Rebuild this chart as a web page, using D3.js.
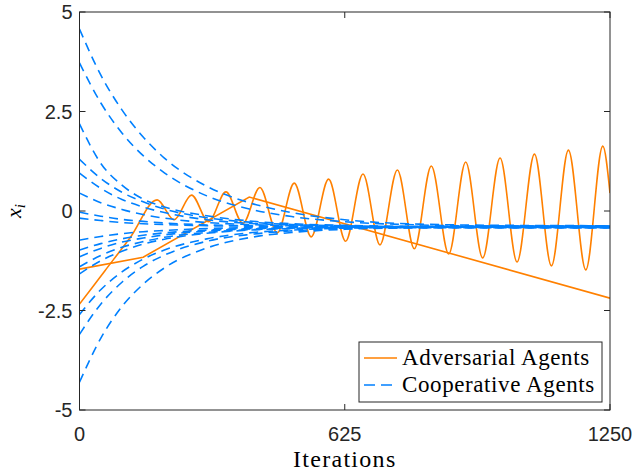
<!DOCTYPE html>
<html>
<head>
<meta charset="utf-8">
<script src="https://cdn.jsdelivr.net/npm/d3@7"></script>
<style>
  body { margin: 0; background: #fff; }
  svg { display: block; }
</style>
</head>
<body>
<svg id="chart" width="637" height="475"></svg>
<script>
var width = 637;
var height = 475;
var MARGINS = { top: 12, right: 27, bottom: 65, left: 79.5 };

// x ticks / y ticks
var xTicks = [0, 625, 1250];
var yTicks = [-5, -2.5, 0, 2.5, 5];
var yTickLabels = ["-5", "-2.5", "0", "2.5", "5"];

// adversarial agent 1: oscillating (iteration, value) read at extrema
var advOscIters = [0, 60, 120, 183, 223, 264, 304, 345, 385, 425, 466, 506, 546, 587, 627, 668, 708, 749, 789, 829, 870, 910, 950, 991, 1031, 1072, 1112, 1152, 1193, 1233, 1250];
var advOscVals  = [-2.34, -1.50, -0.66, 0.28, -0.22, 0.40, -0.27, 0.48, -0.31, 0.59, -0.55, 0.70, -0.65, 0.80, -0.76, 0.93, -0.85, 1.03, -0.95, 1.13, -1.08, 1.23, -1.18, 1.33, -1.28, 1.43, -1.38, 1.53, -1.48, 1.63, 0.45];

// adversarial agent 2: piecewise linear
var advLinIters = [0, 150, 400, 1250];
var advLinVals  = [-1.46, -1.16, 0.35, -2.19];

// cooperative agents, sampled at these iterations
var coopIters = [0, 50, 100, 150, 200, 300, 400, 500, 625, 800, 1000, 1250];
var coop1  = [4.57, 3.42, 2.54, 1.86, 1.33, 0.62, 0.21, -0.04, -0.22, -0.33, -0.36, -0.37];
var coop2  = [3.72, 2.72, 1.96, 1.39, 0.96, 0.38, 0.05, -0.14, -0.27, -0.35, -0.38, -0.38];
var coop3  = [2.19, 1.20, 0.65, 0.30, 0.10, -0.12, -0.25, -0.32, -0.36, -0.39, -0.40, -0.40];
var coop4  = [1.30, 0.82, 0.47, 0.23, 0.05, -0.17, -0.28, -0.34, -0.37, -0.40, -0.41, -0.42];
var coop5  = [0.95, 0.57, 0.29, 0.10, -0.04, -0.22, -0.31, -0.35, -0.38, -0.39, -0.39, -0.39];
var coop6  = [0.45, 0.21, 0.04, -0.09, -0.18, -0.29, -0.34, -0.37, -0.39, -0.41, -0.42, -0.42];
var coop7  = [-0.03, -0.13, -0.21, -0.26, -0.30, -0.35, -0.37, -0.39, -0.40, -0.40, -0.40, -0.40];
var coop8  = [-0.18, -0.24, -0.29, -0.32, -0.34, -0.37, -0.38, -0.39, -0.40, -0.39, -0.38, -0.38];
var coop9  = [-0.73, -0.64, -0.57, -0.52, -0.49, -0.44, -0.42, -0.41, -0.40, -0.41, -0.41, -0.41];
var coop10 = [-0.98, -0.82, -0.70, -0.61, -0.55, -0.48, -0.44, -0.42, -0.41, -0.42, -0.42, -0.42];
var coop11 = [-1.15, -0.94, -0.78, -0.68, -0.60, -0.50, -0.45, -0.43, -0.41, -0.40, -0.40, -0.40];
var coop12 = [-1.40, -1.12, -0.91, -0.77, -0.66, -0.54, -0.47, -0.44, -0.42, -0.40, -0.39, -0.39];
var coop13 = [-1.58, -1.25, -1.01, -0.83, -0.71, -0.56, -0.48, -0.44, -0.42, -0.41, -0.38, -0.38];
var coop14 = [-2.60, -1.98, -1.53, -1.21, -0.98, -0.70, -0.55, -0.48, -0.43, -0.41, -0.41, -0.41];
var coop15 = [-3.10, -2.34, -1.79, -1.39, -1.11, -0.76, -0.59, -0.50, -0.44, -0.42, -0.42, -0.42];
var coop16 = [-4.30, -3.20, -2.40, -1.84, -1.43, -0.93, -0.67, -0.54, -0.46, -0.42, -0.40, -0.40];
var coopSeries = [coop1, coop2, coop3, coop4, coop5, coop6, coop7, coop8,
                  coop9, coop10, coop11, coop12, coop13, coop14, coop15, coop16];

var legendLabels = ["Adversarial Agents", "Cooperative Agents"];

var ORANGE = "#ff8000";
var BLUE = "#0080ff";
var AXIS = "#262626";

var plotWidth = width - MARGINS.left - MARGINS.right;
var plotHeight = height - MARGINS.top - MARGINS.bottom;

var x = d3.scaleLinear().domain([0, 1250]).range([MARGINS.left, MARGINS.left + plotWidth]);
var y = d3.scaleLinear().domain([-5, 5]).range([MARGINS.top + plotHeight, MARGINS.top]);

var vis = d3.select("#chart");

vis.append("defs").append("clipPath").attr("id", "plotClip")
  .append("rect")
  .attr("x", x(0)).attr("y", y(5))
  .attr("width", x(1250) - x(0)).attr("height", y(-5) - y(5));

var line = d3.line()
  .x(function (d) { return x(d[0]); })
  .y(function (d) { return y(d[1]); })
  .curve(d3.curveMonotoneX);

var plot = vis.append("g").attr("clip-path", "url(#plotClip)");

// adversarial
plot.append("path")
  .attr("d", line(advOscIters.map(function (t, i) { return [t, advOscVals[i]]; })))
  .attr("fill", "none").attr("stroke", ORANGE).attr("stroke-width", 1.6);

plot.append("path")
  .attr("d", d3.line().x(function (d) { return x(d[0]); }).y(function (d) { return y(d[1]); })
    (advLinIters.map(function (t, i) { return [t, advLinVals[i]]; })))
  .attr("fill", "none").attr("stroke", ORANGE).attr("stroke-width", 1.6);

// cooperative
coopSeries.forEach(function (s) {
  plot.append("path")
    .attr("d", line(coopIters.map(function (t, i) { return [t, s[i]]; })))
    .attr("fill", "none").attr("stroke", BLUE).attr("stroke-width", 1.6)
    .attr("stroke-dasharray", "9,6");
});

// axes box
var x0 = x(0), x1 = x(1250), yT = y(5), yB = y(-5);
vis.append("rect")
  .attr("x", x0).attr("y", yT).attr("width", x1 - x0).attr("height", yB - yT)
  .attr("fill", "none").attr("stroke", AXIS).attr("stroke-width", 1);

var tickLen = 6;
xTicks.forEach(function (t) {
  vis.append("line").attr("x1", x(t)).attr("x2", x(t)).attr("y1", yB).attr("y2", yB - tickLen)
    .attr("stroke", AXIS);
  vis.append("line").attr("x1", x(t)).attr("x2", x(t)).attr("y1", yT).attr("y2", yT + tickLen)
    .attr("stroke", AXIS);
  vis.append("text")
    .attr("x", x(t)).attr("y", yB + 31)
    .attr("text-anchor", "middle")
    .style("font-family", "'Liberation Sans', Arial, sans-serif")
    .style("font-size", "20px")
    .attr("fill", AXIS)
    .text(t);
});

yTicks.forEach(function (t, i) {
  vis.append("line").attr("x1", x0).attr("x2", x0 + tickLen).attr("y1", y(t)).attr("y2", y(t))
    .attr("stroke", AXIS);
  vis.append("line").attr("x1", x1).attr("x2", x1 - tickLen).attr("y1", y(t)).attr("y2", y(t))
    .attr("stroke", AXIS);
  vis.append("text")
    .attr("x", x0 - 7).attr("y", y(t) + 7)
    .attr("text-anchor", "end")
    .style("font-family", "'Liberation Sans', Arial, sans-serif")
    .style("font-size", "20px")
    .attr("fill", AXIS)
    .text(yTickLabels[i]);
});

// axis labels
vis.append("text")
  .attr("x", x(625)).attr("y", 467)
  .attr("text-anchor", "middle")
  .style("font-family", "'Liberation Serif', 'Times New Roman', serif")
  .style("font-size", "24px")
  .style("letter-spacing", "1.3px")
  .attr("fill", "#000")
  .text("Iterations");

var yl = vis.append("text")
  .attr("transform", "translate(21," + y(0) + ") rotate(-90)")
  .attr("text-anchor", "middle")
  .style("font-family", "'Liberation Serif', 'Times New Roman', serif")
  .style("font-size", "22px")
  .style("font-style", "italic")
  .attr("fill", "#000");
yl.append("tspan").text("x");
yl.append("tspan").attr("dy", 4).style("font-size", "15px").text("i");

// legend
var lg = vis.append("g");
lg.append("rect")
  .attr("x", 359).attr("y", 342).attr("width", 243).attr("height", 60)
  .attr("fill", "#fff").attr("stroke", AXIS).attr("stroke-width", 1);
var legendColors = [ORANGE, BLUE];
var legendDash = [null, "11,6"];
legendLabels.forEach(function (lab, i) {
  var ly = 358 + i * 27;
  lg.append("line")
    .attr("x1", 364).attr("x2", 397).attr("y1", ly).attr("y2", ly)
    .attr("stroke", legendColors[i]).attr("stroke-width", 1.6)
    .attr("stroke-dasharray", legendDash[i]);
  lg.append("text")
    .attr("x", 402).attr("y", ly + 7)
    .style("font-family", "'Liberation Serif', 'Times New Roman', serif")
    .style("font-size", "23px")
    .style("letter-spacing", "0.6px")
    .attr("fill", "#000")
    .text(lab);
});
</script>
</body>
</html>
